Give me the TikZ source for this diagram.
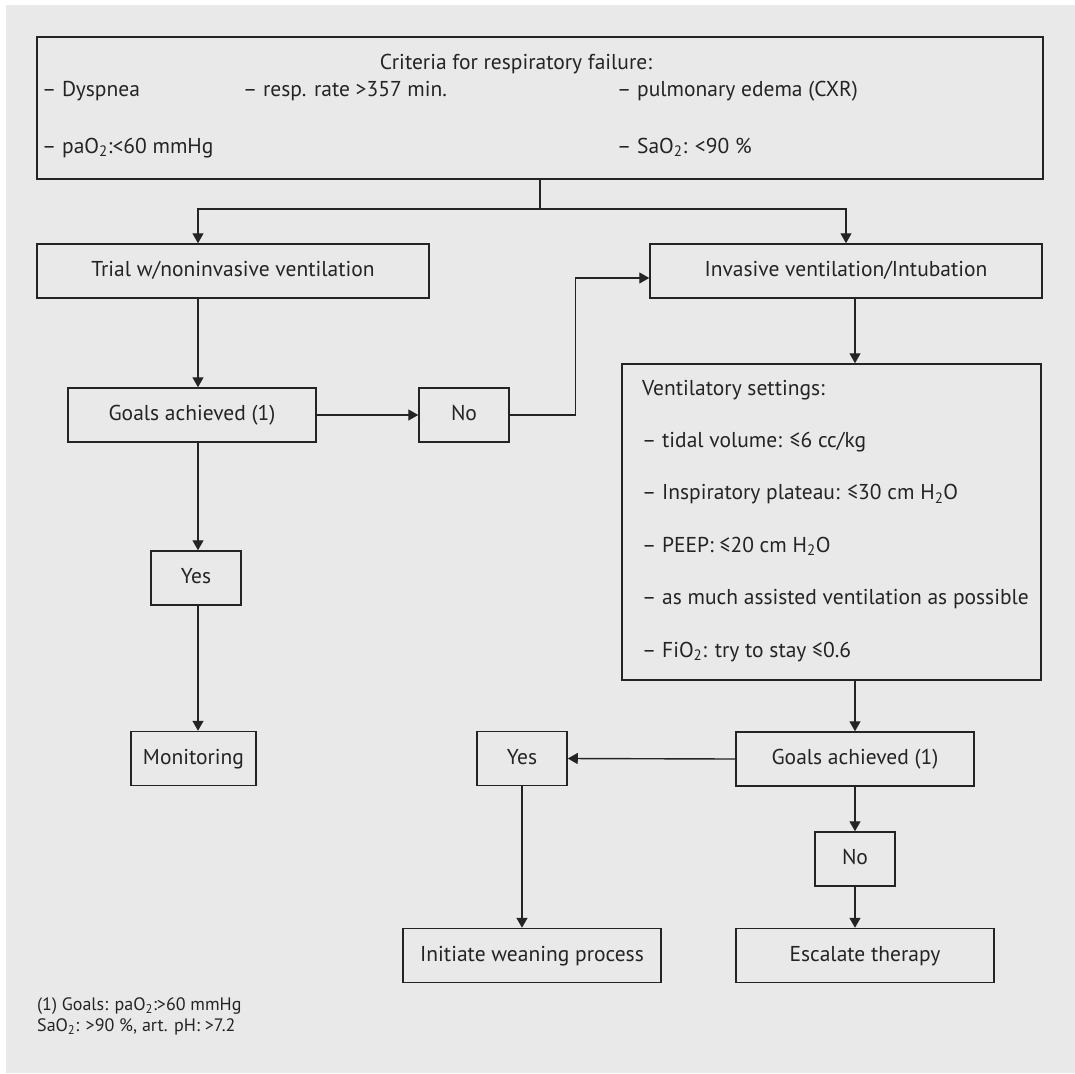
\documentclass[tikz,border=0pt]{standalone}
\usepackage{fontspec}
\setmainfont{PT Sans}
\usetikzlibrary{arrows.meta,calc}
\definecolor{panelgray}{HTML}{E9E9E9}
\definecolor{inkgray}{HTML}{242424}
\newcommand\flowfont{\fontsize{21.5}{26}\selectfont}
\newcommand\notefont{\fontsize{18}{20}\selectfont}
\tikzset{
  flowbox/.style={draw=inkgray,line width=1.5pt,rectangle,inner sep=0pt,minimum height=54pt,
    text height=15pt,text depth=4pt,font=\flowfont,text=inkgray},
  listtext/.style={anchor=base west,inner sep=0pt,font=\flowfont,text=inkgray},
  notetext/.style={anchor=base west,inner sep=0pt,font=\notefont,text=inkgray},
  flowline/.style={draw=inkgray,line width=1.4pt},
  flowarrow/.style={flowline,-{Triangle[width=11pt,length=10pt]}},
}

\begin{document}
\begin{tikzpicture}[x=1pt,y=-1pt]

% background panel
\fill[white] (0,0) rectangle (1075,1073);
\fill[panelgray] (6,5) rectangle (1075,1073);

% criteria box
\node[flowbox,minimum width=1006pt,minimum height=142pt] (crit) at (540,108) {};
\node[listtext,anchor=base] (critT) at (516,69) {Criteria for respiratory failure:};
\node[listtext] (dysp) at (42,96) {– Dyspnea};
\node[listtext] (rate) at (243,96) {– resp. rate >357 min.};
\node[listtext] (edema) at (617,96) {– pulmonary edema (CXR)};
\node[listtext] (pao) at (42,153) {– paO\textsubscript{2}:<60 mmHg};
\node[listtext] (sao) at (617,153) {– SaO\textsubscript{2}: <90 \%};

% left branch
\node[flowbox,minimum width=392pt] (trial) at (233,271) {Trial w/noninvasive ventilation};
\node[flowbox,minimum width=248pt] (goalsL) at (192,415) {Goals achieved (1)};
\node[flowbox,minimum width=90pt] (noL) at (464,415) {No};
\node[flowbox,minimum width=90pt] (yesL) at (196,578) {Yes};
\node[flowbox,minimum width=125pt] (mon) at (193.5,758.5) {Monitoring};

% right branch
\node[flowbox,minimum width=392pt] (inv) at (846,271) {Invasive ventilation/Intubation};
\node[flowbox,minimum width=419pt,minimum height=316pt] (vent) at (831.5,522) {};
\foreach \txt [count=\i from 0] in {{Ventilatory settings:},
    {– tidal volume: ≤6 cc/kg},
    {– Inspiratory plateau: ≤30 cm H\textsubscript{2}O},
    {– PEEP: ≤20 cm H\textsubscript{2}O},
    {– as much assisted ventilation as possible},
    {– FiO\textsubscript{2}: try to stay ≤0.6}}
  \node[listtext] (vent\i) at (642,395+52.4*\i) {\txt};
\node[flowbox,minimum width=238pt] (goalsR) at (855,759) {Goals achieved (1)};
\node[flowbox,minimum width=90pt] (yesR) at (522,758.5) {Yes};
\node[flowbox,minimum width=80pt] (noR) at (855,859) {No};
\node[flowbox,minimum width=258pt] (init) at (532,955.5) {Initiate weaning process};
\node[flowbox,minimum width=258pt] (esc) at (865,955.5) {Escalate therapy};

% footnote
\node[notetext] (note1) at (37,1010) {(1) Goals: paO\textsubscript{2}:>60 mmHg};
\node[notetext] (note2) at (37,1031) {SaO\textsubscript{2}: >90 \%, art. pH: >7.2};

% connectors
\coordinate (colL) at (198,0);
\coordinate (colR) at (855,0);
\coordinate (split) at (540,209);
\draw[flowline] (crit.south) -- (split);
\draw[flowarrow] (split) -| (colL |- trial.north);
\draw[flowarrow] (split) -| (inv.north);
\draw[flowarrow] (colL |- trial.south) -- (colL |- goalsL.north);
\draw[flowarrow] (goalsL) -- (noL);
\draw[flowarrow] (noL.east) -- ++(66,0) |- ([yshift=-7pt]inv.west);
\draw[flowarrow] (colL |- goalsL.south) -- (colL |- yesL.north);
\draw[flowarrow] (colL |- yesL.south) -- (colL |- mon.north);
\draw[flowarrow] (colR |- inv.south) -- (colR |- vent.north);
\draw[flowarrow] (colR |- vent.south) -- (goalsR.north);
\draw[flowarrow] (goalsR.west) -- (yesR.east);
\draw[flowarrow] (yesR.south) -- (yesR.south |- init.north);
\draw[flowarrow] (goalsR.south) -- (noR.north);
\draw[flowarrow] (noR.south) -- (noR.south |- esc.north);

\end{tikzpicture}
\end{document}
